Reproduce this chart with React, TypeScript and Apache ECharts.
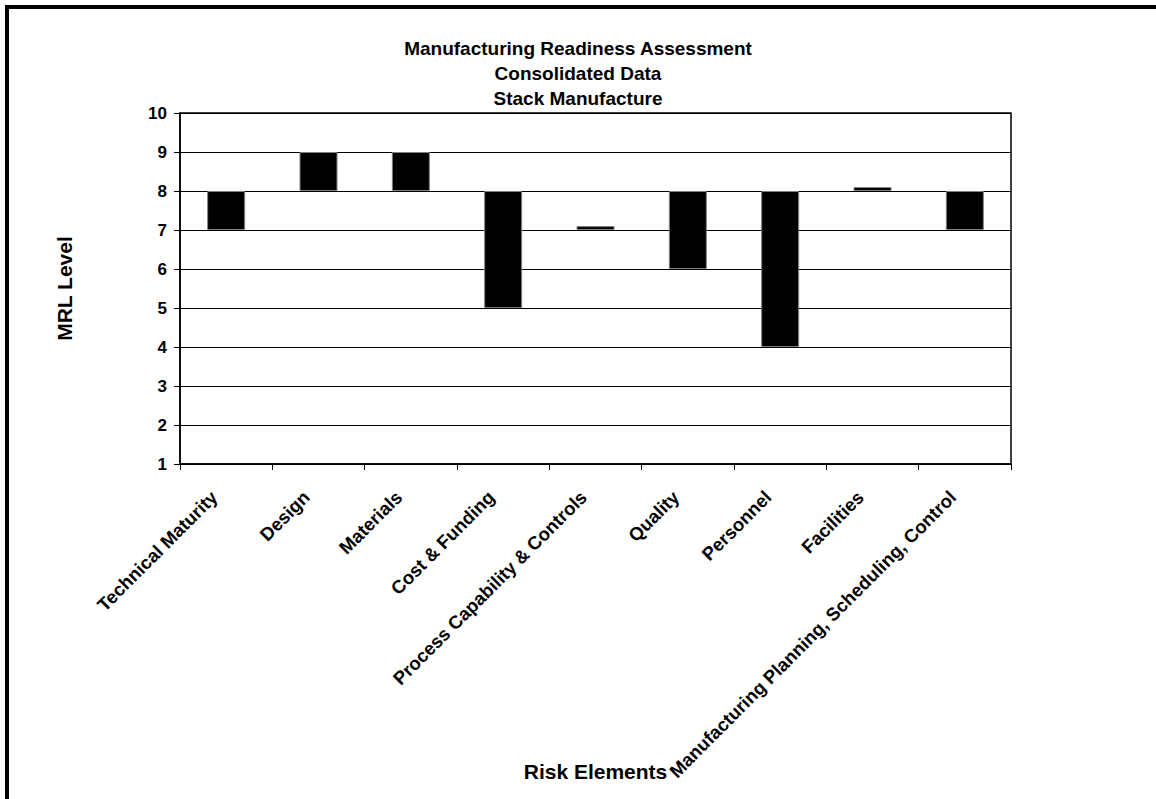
import React, { useEffect, useRef } from "react";
import * as echarts from "echarts";

const titleLines = ["Manufacturing Readiness Assessment", "Consolidated Data", "Stack Manufacture"];
const categories = [
  "Technical Maturity",
  "Design",
  "Materials",
  "Cost & Funding",
  "Process Capability & Controls",
  "Quality",
  "Personnel",
  "Facilities",
  "Manufacturing Planning, Scheduling, Control",
];
const lowValues = [7, 8, 8, 5, 7, 6, 4, 8, 7];
const highValues = [8, 9, 9, 8, 7.1, 8, 8, 8.1, 8];
const yAxisName = "MRL Level";
const xAxisName = "Risk Elements";

const FONT = "'Liberation Sans', Arial, Helvetica, sans-serif";

export default function App() {
  const ref = useRef<HTMLDivElement>(null);
  useEffect(() => {
    if (!ref.current) return;
    const chart = echarts.init(ref.current, null, { renderer: "svg" });
    const spans = highValues.map((h, i) => Math.round((h - lowValues[i]) * 1000) / 1000);
    chart.setOption({
      animation: false,
      backgroundColor: "#ffffff",
      textStyle: { fontFamily: FONT },
      title: {
        text: titleLines.join("\n"),
        left: "center",
        top: 36,
        padding: 0,
        textStyle: {
          fontFamily: FONT,
          fontSize: 19,
          fontWeight: "bold",
          lineHeight: 25,
          color: "#000",
        },
      },
      graphic: [
        {
          type: "rect",
          shape: { x: 7, y: 7, width: 1400, height: 1000 },
          style: { fill: "none", stroke: "#000", lineWidth: 4 },
          silent: true,
        },
      ],
      grid: {
        left: 180,
        top: 113,
        right: 145,
        bottom: 335,
        containLabel: false,
        outerBoundsMode: "none",
        show: true,
        borderColor: "#000",
        borderWidth: 1.5,
        backgroundColor: "transparent",
      },
      xAxis: {
        type: "category",
        data: categories,
        name: xAxisName,
        nameLocation: "middle",
        nameGap: 297,
        nameMoveOverlap: false,
        nameTextStyle: { fontFamily: FONT, fontSize: 21, fontWeight: "bold", color: "#000" },
        axisLine: { lineStyle: { color: "#000", width: 1.5 } },
        axisTick: { show: true, inside: false, length: 6, lineStyle: { color: "#000", width: 1 } },
        axisLabel: {
          interval: 0,
          rotate: 45,
          margin: 18,
          padding: [0, 17, 0, 0],
          fontFamily: FONT,
          fontSize: 18.5,
          fontWeight: "bold",
          color: "#000",
        },
        splitLine: { show: false },
      },
      yAxis: {
        type: "value",
        min: 1,
        max: 10,
        interval: 1,
        name: yAxisName,
        nameLocation: "middle",
        nameGap: 105,
        nameMoveOverlap: false,
        nameRotate: 90,
        nameTextStyle: { fontFamily: FONT, fontSize: 21, fontWeight: "bold", color: "#000" },
        axisLine: { show: true, lineStyle: { color: "#000", width: 1.5 } },
        axisTick: { show: true, inside: false, length: 6, lineStyle: { color: "#000", width: 1 } },
        axisLabel: {
          margin: 13,
          fontFamily: FONT,
          fontSize: 17,
          fontWeight: "bold",
          color: "#000",
        },
        splitLine: { show: true, lineStyle: { color: "#000", width: 1 } },
      },
      series: [
        {
          type: "bar",
          name: "base",
          stack: "range",
          data: lowValues,
          barWidth: 38,
          itemStyle: { color: "transparent", borderWidth: 0 },
          silent: true,
        },
        {
          type: "bar",
          name: "range",
          stack: "range",
          data: spans,
          barWidth: 38,
          itemStyle: { color: "#000", borderColor: "#808080", borderWidth: 1 },
        },
      ],
    });
    return () => chart.dispose();
  }, []);
  return (
    <div
      ref={ref}
      style={{ position: "absolute", left: 0, top: 0, width: 1156, height: 799, background: "#fff" }}
    />
  );
}
